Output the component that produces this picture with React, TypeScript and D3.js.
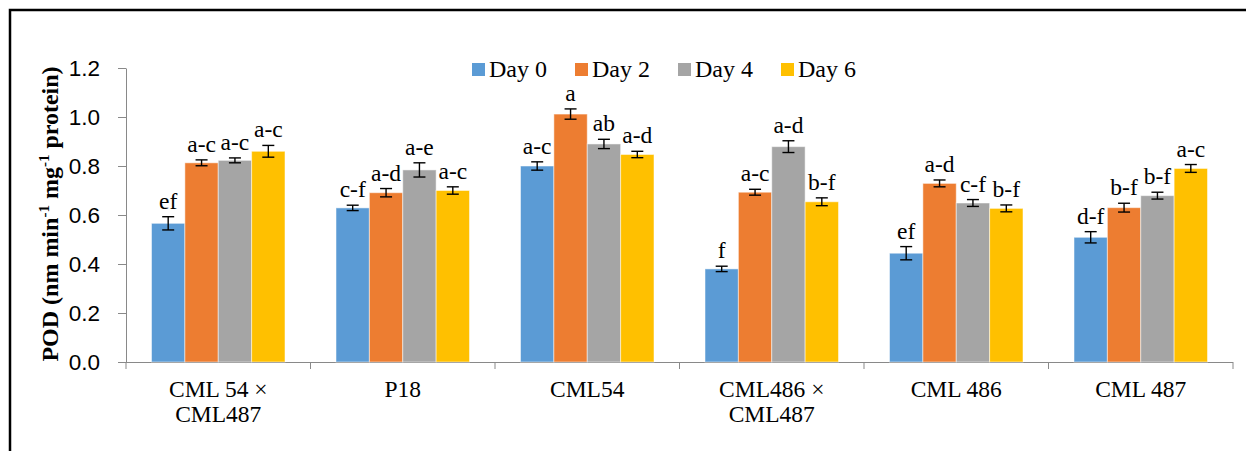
import { useEffect, useRef } from 'react';
import * as d3 from 'd3';

// chart values
const categories = ['CML 54 ×\nCML487', 'P18', 'CML54', 'CML486 ×\nCML487', 'CML 486', 'CML 487'];
const series = ['Day 0', 'Day 2', 'Day 4', 'Day 6'];
const colors = ['#5B9BD5', '#ED7D31', '#A5A5A5', '#FFC000'];

const day0 = [0.566, 0.629, 0.8, 0.38, 0.444, 0.509];
const day2 = [0.813, 0.691, 1.012, 0.693, 0.729, 0.63];
const day4 = [0.823, 0.784, 0.89, 0.879, 0.649, 0.679];
const day6 = [0.86, 0.7, 0.847, 0.654, 0.627, 0.79];

const err0 = [0.027, 0.011, 0.017, 0.011, 0.027, 0.023];
const err2 = [0.012, 0.017, 0.021, 0.012, 0.014, 0.018];
const err4 = [0.01, 0.029, 0.019, 0.024, 0.014, 0.014];
const err6 = [0.024, 0.015, 0.013, 0.016, 0.014, 0.016];

const letters0 = ['ef', 'c-f', 'a-c', 'f', 'ef', 'd-f'];
const letters2 = ['a-c', 'a-d', 'a', 'a-c', 'a-d', 'b-f'];
const letters4 = ['a-c', 'a-e', 'ab', 'a-d', 'c-f', 'b-f'];
const letters6 = ['a-c', 'a-c', 'a-d', 'b-f', 'b-f', 'a-c'];

const yTicks = [0, 0.2, 0.4, 0.6, 0.8, 1.0, 1.2];

const values = [day0, day2, day4, day6];
const errors = [err0, err2, err4, err6];
const letters = [letters0, letters2, letters4, letters6];

const serif = '"Liberation Serif", "Times New Roman", serif';
const sans = '"Liberation Sans", Arial, sans-serif';

const App = () => {
	const ref = useRef<SVGSVGElement>(null);

	useEffect(() => {
		const svg = d3.select(ref.current);
		svg.selectAll('*').remove();

		const left = 126,
			right = 1233,
			top = 68,
			bottom = 362;

		const x = d3.scaleBand().domain(categories).range([left, right]);
		const x1 = d3
			.scaleBand()
			.domain(series)
			.range([25.5, x.bandwidth() - 25.5]);
		const y = d3.scaleLinear().domain([0, 1.2]).range([bottom, top]);

		// frame (top and left edges only)
		svg
			.append('path')
			.attr('d', 'M10,1246 V10 H1246')
			.attr('fill', 'none')
			.attr('stroke', '#000')
			.attr('stroke-width', 2.5);

		// y axis
		const yAxis = svg
			.append('g')
			.attr('transform', `translate(${left},0)`)
			.call(
				d3
					.axisLeft(y)
					.tickValues(yTicks)
					.tickFormat(d3.format('.1f'))
					.tickSize(8)
					.tickSizeOuter(0)
					.tickPadding(18)
			);
		yAxis.select('.domain').attr('stroke', '#898989');
		yAxis.selectAll('line').attr('stroke', '#898989');
		yAxis
			.selectAll('text')
			.attr('fill', '#000')
			.style('font-family', sans)
			.style('font-size', '22.5px');
		// axis line extends below zero
		svg
			.append('line')
			.attr('x1', left)
			.attr('x2', left)
			.attr('y1', bottom)
			.attr('y2', bottom + 7)
			.attr('stroke', '#898989');

		// x axis with ticks at category boundaries
		const gx = svg.append('g');
		gx.append('line')
			.attr('x1', left)
			.attr('x2', right)
			.attr('y1', bottom + 0.5)
			.attr('y2', bottom + 0.5)
			.attr('stroke', '#898989');
		gx.selectAll('.bound')
			.data(categories)
			.join('line')
			.attr('x1', (d) => x(d)! + x.bandwidth())
			.attr('x2', (d) => x(d)! + x.bandwidth())
			.attr('y1', bottom)
			.attr('y2', bottom + 7)
			.attr('stroke', '#898989');

		gx.selectAll('.cat')
			.data(categories)
			.join('text')
			.attr('x', (d) => x(d)! + x.bandwidth() / 2)
			.attr('y', 397)
			.attr('text-anchor', 'middle')
			.style('font-family', serif)
			.style('font-size', '23.5px')
			.each(function (d) {
				const lines = d.split('\n');
				d3.select(this)
					.selectAll('tspan')
					.data(lines)
					.join('tspan')
					.attr('x', x(d)! + x.bandwidth() / 2)
					.attr('dy', (_, i) => (i === 0 ? 0 : 25))
					.text((l) => l);
			});

		// bars, error bars and letters
		series.forEach((s, si) => {
			const g = svg.append('g');
			const rows = categories.map((c, ci) => ({
				c,
				v: values[si][ci],
				e: errors[si][ci],
				l: letters[si][ci],
			}));
			const bx = (d) => x(d.c)! + x1(s)!;
			const cx = (d) => bx(d) + x1.bandwidth() / 2;

			g.selectAll('rect')
				.data(rows)
				.join('rect')
				.attr('x', bx)
				.attr('y', (d) => y(d.v))
				.attr('width', x1.bandwidth())
				.attr('height', (d) => y(0) - y(d.v))
				.attr('fill', colors[si])
				.attr('stroke', '#fff')
				.attr('stroke-opacity', 0.5)
				.attr('stroke-width', 1);

			const eb = g.append('g').attr('stroke', '#000').attr('stroke-width', 1.4);
			eb.selectAll('.v')
				.data(rows)
				.join('line')
				.attr('x1', cx)
				.attr('x2', cx)
				.attr('y1', (d) => y(d.v - d.e))
				.attr('y2', (d) => y(d.v + d.e));
			eb.selectAll('.t')
				.data(rows)
				.join('line')
				.attr('x1', (d) => cx(d) - 6)
				.attr('x2', (d) => cx(d) + 6)
				.attr('y1', (d) => y(d.v + d.e))
				.attr('y2', (d) => y(d.v + d.e));
			eb.selectAll('.b')
				.data(rows)
				.join('line')
				.attr('x1', (d) => cx(d) - 6)
				.attr('x2', (d) => cx(d) + 6)
				.attr('y1', (d) => y(d.v - d.e))
				.attr('y2', (d) => y(d.v - d.e));

			g.selectAll('text')
				.data(rows)
				.join('text')
				.attr('x', cx)
				.attr('y', (d) => y(d.v + d.e) - 8)
				.attr('text-anchor', 'middle')
				.style('font-family', serif)
				.style('font-size', '23.5px')
				.text((d) => d.l);

			// legend
			const lx = 472 + si * 103;
			svg.append('rect')
				.attr('x', lx)
				.attr('y', 63)
				.attr('width', 13)
				.attr('height', 13)
				.attr('fill', colors[si]);
			svg.append('text')
				.attr('x', lx + 17)
				.attr('y', 77)
				.style('font-family', serif)
				.style('font-size', '24px')
				.text(s);
		});

		// y axis title
		const title = svg
			.append('text')
			.attr('transform', 'translate(58,214) rotate(-90)')
			.attr('text-anchor', 'middle')
			.style('font-family', serif)
			.style('font-size', '24px')
			.style('font-weight', 'bold');
		title.append('tspan').text('POD (nm min');
		title.append('tspan').attr('dy', -9).style('font-size', '15px').text('-1');
		title.append('tspan').attr('dy', 9).text(' mg');
		title.append('tspan').attr('dy', -9).style('font-size', '15px').text('-1');
		title.append('tspan').attr('dy', 9).text(' protein)');
	}, []);

	return (
		<svg
			ref={ref}
			width={1246}
			height={451}
			style={{ position: 'absolute', left: 0, top: 0, background: '#fff' }}
		></svg>
	);
};

export default App;
